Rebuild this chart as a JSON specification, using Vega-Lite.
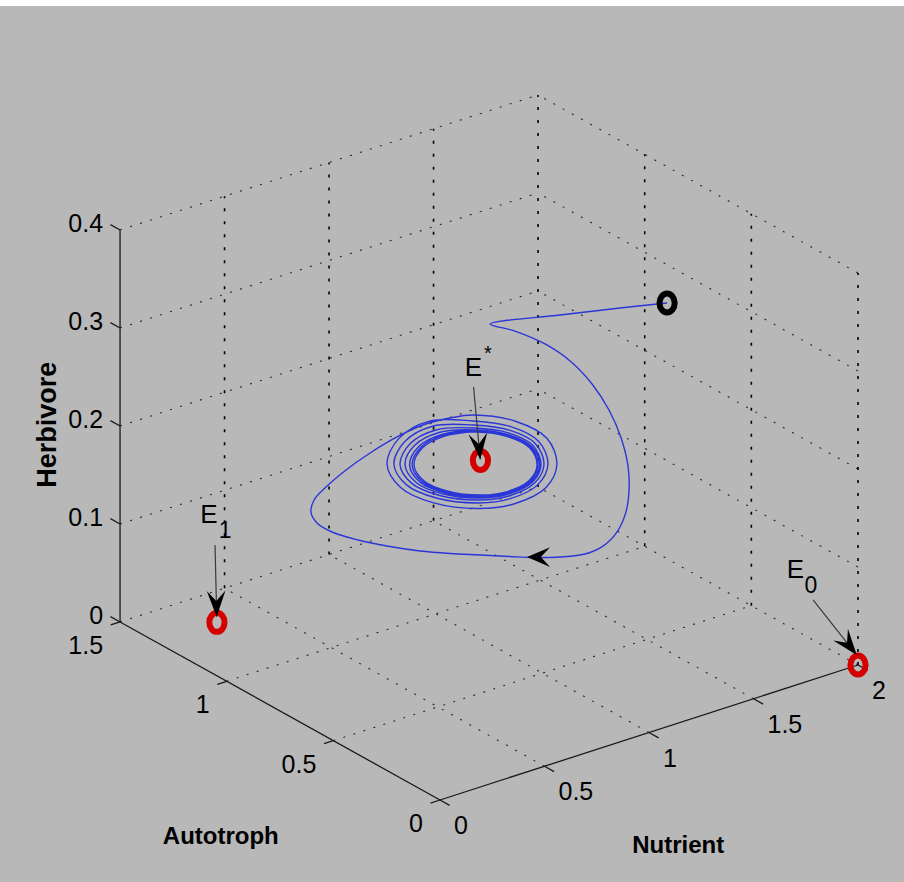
{
  "$schema": "https://vega.github.io/schema/vega-lite/v6.json",
  "width": 904,
  "height": 876,
  "autosize": {"type": "none"},
  "padding": {"top": 6, "left": 0, "right": 0, "bottom": 0},
  "background": "#ffffff",
  "config": {"view": {"stroke": null, "fill": "#b8b8b8"}, "font": "Liberation Sans"},
  "datasets": {
    "segments": [
      {"part": "grid", "N1": 0.5, "A1": 0, "H1": 0, "N2": 0.5, "A2": 1.5, "H2": 0},
      {"part": "grid", "N1": 1, "A1": 0, "H1": 0, "N2": 1, "A2": 1.5, "H2": 0},
      {"part": "grid", "N1": 1.5, "A1": 0, "H1": 0, "N2": 1.5, "A2": 1.5, "H2": 0},
      {"part": "grid", "N1": 2, "A1": 0, "H1": 0, "N2": 2, "A2": 1.5, "H2": 0},
      {"part": "grid", "N1": 0, "A1": 0.5, "H1": 0, "N2": 2, "A2": 0.5, "H2": 0},
      {"part": "grid", "N1": 0, "A1": 1, "H1": 0, "N2": 2, "A2": 1, "H2": 0},
      {"part": "grid", "N1": 0, "A1": 1.5, "H1": 0, "N2": 2, "A2": 1.5, "H2": 0},
      {"part": "grid", "N1": 0.5, "A1": 1.5, "H1": 0, "N2": 0.5, "A2": 1.5, "H2": 0.4},
      {"part": "grid", "N1": 1, "A1": 1.5, "H1": 0, "N2": 1, "A2": 1.5, "H2": 0.4},
      {"part": "grid", "N1": 1.5, "A1": 1.5, "H1": 0, "N2": 1.5, "A2": 1.5, "H2": 0.4},
      {"part": "grid", "N1": 2, "A1": 1.5, "H1": 0, "N2": 2, "A2": 1.5, "H2": 0.4},
      {"part": "grid", "N1": 0, "A1": 1.5, "H1": 0.1, "N2": 2, "A2": 1.5, "H2": 0.1},
      {"part": "grid", "N1": 0, "A1": 1.5, "H1": 0.2, "N2": 2, "A2": 1.5, "H2": 0.2},
      {"part": "grid", "N1": 0, "A1": 1.5, "H1": 0.3, "N2": 2, "A2": 1.5, "H2": 0.3},
      {"part": "grid", "N1": 0, "A1": 1.5, "H1": 0.4, "N2": 2, "A2": 1.5, "H2": 0.4},
      {"part": "grid", "N1": 2, "A1": 0, "H1": 0, "N2": 2, "A2": 0, "H2": 0.4},
      {"part": "grid", "N1": 2, "A1": 0.5, "H1": 0, "N2": 2, "A2": 0.5, "H2": 0.4},
      {"part": "grid", "N1": 2, "A1": 1, "H1": 0, "N2": 2, "A2": 1, "H2": 0.4},
      {"part": "grid", "N1": 2, "A1": 0, "H1": 0.1, "N2": 2, "A2": 1.5, "H2": 0.1},
      {"part": "grid", "N1": 2, "A1": 0, "H1": 0.2, "N2": 2, "A2": 1.5, "H2": 0.2},
      {"part": "grid", "N1": 2, "A1": 0, "H1": 0.3, "N2": 2, "A2": 1.5, "H2": 0.3},
      {"part": "grid", "N1": 2, "A1": 0, "H1": 0.4, "N2": 2, "A2": 1.5, "H2": 0.4},
      {"part": "axis", "N1": 0, "A1": 0, "H1": 0, "N2": 2, "A2": 0, "H2": 0},
      {"part": "axis", "N1": 0, "A1": 0, "H1": 0, "N2": 0, "A2": 1.5, "H2": 0},
      {"part": "axis", "N1": 0, "A1": 1.5, "H1": 0, "N2": 0, "A2": 1.5, "H2": 0.4},
      {"part": "tick", "N1": 0, "A1": 0, "H1": 0, "N2": 0, "A2": -0.045, "H2": 0},
      {"part": "tick", "N1": 0.5, "A1": 0, "H1": 0, "N2": 0.5, "A2": -0.045, "H2": 0},
      {"part": "tick", "N1": 1, "A1": 0, "H1": 0, "N2": 1, "A2": -0.045, "H2": 0},
      {"part": "tick", "N1": 1.5, "A1": 0, "H1": 0, "N2": 1.5, "A2": -0.045, "H2": 0},
      {"part": "tick", "N1": 2, "A1": 0, "H1": 0, "N2": 2, "A2": -0.045, "H2": 0},
      {"part": "tick", "N1": 0, "A1": 0, "H1": 0, "N2": -0.045, "A2": 0, "H2": 0},
      {"part": "tick", "N1": 0, "A1": 0.5, "H1": 0, "N2": -0.045, "A2": 0.5, "H2": 0},
      {"part": "tick", "N1": 0, "A1": 1, "H1": 0, "N2": -0.045, "A2": 1, "H2": 0},
      {"part": "tick", "N1": 0, "A1": 1.5, "H1": 0, "N2": -0.045, "A2": 1.5, "H2": 0},
      {"part": "tick", "N1": 0, "A1": 1.5, "H1": 0, "N2": 0, "A2": 1.545, "H2": 0},
      {"part": "tick", "N1": 0, "A1": 1.5, "H1": 0.1, "N2": 0, "A2": 1.545, "H2": 0.1},
      {"part": "tick", "N1": 0, "A1": 1.5, "H1": 0.2, "N2": 0, "A2": 1.545, "H2": 0.2},
      {"part": "tick", "N1": 0, "A1": 1.5, "H1": 0.3, "N2": 0, "A2": 1.545, "H2": 0.3},
      {"part": "tick", "N1": 0, "A1": 1.5, "H1": 0.4, "N2": 0, "A2": 1.545, "H2": 0.4}
    ],
    "tickLabels": [
      {"axis": "N", "label": "0", "N": 0, "A": 0, "H": 0},
      {"axis": "N", "label": "0.5", "N": 0.5, "A": 0, "H": 0},
      {"axis": "N", "label": "1", "N": 1, "A": 0, "H": 0},
      {"axis": "N", "label": "1.5", "N": 1.5, "A": 0, "H": 0},
      {"axis": "N", "label": "2", "N": 2, "A": 0, "H": 0},
      {"axis": "A", "label": "0", "N": 0, "A": 0, "H": 0},
      {"axis": "A", "label": "0.5", "N": 0, "A": 0.5, "H": 0},
      {"axis": "A", "label": "1", "N": 0, "A": 1, "H": 0},
      {"axis": "A", "label": "1.5", "N": 0, "A": 1.5, "H": 0},
      {"axis": "H", "label": "0", "N": 0, "A": 1.5, "H": 0},
      {"axis": "H", "label": "0.1", "N": 0, "A": 1.5, "H": 0.1},
      {"axis": "H", "label": "0.2", "N": 0, "A": 1.5, "H": 0.2},
      {"axis": "H", "label": "0.3", "N": 0, "A": 1.5, "H": 0.3},
      {"axis": "H", "label": "0.4", "N": 0, "A": 1.5, "H": 0.4}
    ],
    "axisTitles": [
      {"title": "Nutrient", "N": 0.472, "A": -0.654, "H": 0},
      {"title": "Autotroph", "N": -0.863, "A": 0.182, "H": 0},
      {"title": "Herbivore", "N": -0.345, "A": 1.5, "H": 0.225}
    ],
    "trajectory": [
      {"t": 0, "N": 1.903, "A": 0.8, "H": 0.2792},
      {"t": 1, "N": 1.678, "A": 0.8, "H": 0.2896},
      {"t": 2, "N": 1.391, "A": 0.8, "H": 0.3022},
      {"t": 3, "N": 1.056, "A": 0.8, "H": 0.3161},
      {"t": 4, "N": 1.175, "A": 0.8, "H": 0.3007},
      {"t": 5, "N": 1.319, "A": 0.8, "H": 0.2776},
      {"t": 6, "N": 1.439, "A": 0.8, "H": 0.2520},
      {"t": 7, "N": 1.544, "A": 0.8, "H": 0.2213},
      {"t": 8, "N": 1.625, "A": 0.8, "H": 0.1891},
      {"t": 9, "N": 1.683, "A": 0.8, "H": 0.1566},
      {"t": 10, "N": 1.716, "A": 0.8, "H": 0.1257},
      {"t": 11, "N": 1.721, "A": 0.8, "H": 0.1009},
      {"t": 12, "N": 1.706, "A": 0.8, "H": 0.0794},
      {"t": 13, "N": 1.663, "A": 0.8, "H": 0.0620},
      {"t": 14, "N": 1.596, "A": 0.8, "H": 0.0523},
      {"t": 15, "N": 1.510, "A": 0.8, "H": 0.0501},
      {"t": 16, "N": 1.391, "A": 0.8, "H": 0.0553},
      {"t": 17, "N": 1.271, "A": 0.8, "H": 0.0630},
      {"t": 18, "N": 1.151, "A": 0.8, "H": 0.0723},
      {"t": 19, "N": 1.008, "A": 0.8, "H": 0.0837},
      {"t": 20, "N": 0.864, "A": 0.8, "H": 0.0951},
      {"t": 21, "N": 0.721, "A": 0.8, "H": 0.1075},
      {"t": 22, "N": 0.577, "A": 0.8, "H": 0.1220},
      {"t": 23, "N": 0.424, "A": 0.8, "H": 0.1392},
      {"t": 24, "N": 0.300, "A": 0.8, "H": 0.1559},
      {"t": 25, "N": 0.228, "A": 0.8, "H": 0.1701},
      {"t": 26, "N": 0.199, "A": 0.8, "H": 0.1833},
      {"t": 27, "N": 0.214, "A": 0.8, "H": 0.1945},
      {"t": 28, "N": 0.271, "A": 0.8, "H": 0.2038},
      {"t": 29, "N": 0.367, "A": 0.8, "H": 0.2146},
      {"t": 30, "N": 0.482, "A": 0.8, "H": 0.2240},
      {"t": 31, "N": 0.611, "A": 0.8, "H": 0.2315},
      {"t": 32, "N": 0.735, "A": 0.8, "H": 0.2351},
      {"t": 33, "N": 0.864, "A": 0.8, "H": 0.2334},
      {"t": 34, "N": 0.978, "A": 0.8, "H": 0.2286},
      {"t": 35, "N": 1.181, "A": 0.8, "H": 0.2080},
      {"t": 36, "N": 1.328, "A": 0.8, "H": 0.1807},
      {"t": 37, "N": 1.376, "A": 0.8, "H": 0.1511},
      {"t": 38, "N": 1.324, "A": 0.8, "H": 0.1308},
      {"t": 39, "N": 1.173, "A": 0.8, "H": 0.1246},
      {"t": 40, "N": 1.010, "A": 0.8, "H": 0.1310},
      {"t": 41, "N": 0.786, "A": 0.8, "H": 0.1521},
      {"t": 42, "N": 0.628, "A": 0.8, "H": 0.1787},
      {"t": 43, "N": 0.563, "A": 0.8, "H": 0.2071},
      {"t": 44, "N": 0.620, "A": 0.8, "H": 0.2294},
      {"t": 45, "N": 0.766, "A": 0.8, "H": 0.2370},
      {"t": 46, "N": 0.972, "A": 0.8, "H": 0.2229},
      {"t": 47, "N": 1.156, "A": 0.8, "H": 0.2044},
      {"t": 48, "N": 1.289, "A": 0.8, "H": 0.1801},
      {"t": 49, "N": 1.333, "A": 0.8, "H": 0.1541},
      {"t": 50, "N": 1.285, "A": 0.8, "H": 0.1364},
      {"t": 51, "N": 1.149, "A": 0.8, "H": 0.1312},
      {"t": 52, "N": 1.002, "A": 0.8, "H": 0.1372},
      {"t": 53, "N": 0.799, "A": 0.8, "H": 0.1562},
      {"t": 54, "N": 0.655, "A": 0.8, "H": 0.1798},
      {"t": 55, "N": 0.596, "A": 0.8, "H": 0.2049},
      {"t": 56, "N": 0.648, "A": 0.8, "H": 0.2243},
      {"t": 57, "N": 0.781, "A": 0.8, "H": 0.2307},
      {"t": 58, "N": 0.976, "A": 0.8, "H": 0.2185},
      {"t": 59, "N": 1.149, "A": 0.8, "H": 0.2013},
      {"t": 60, "N": 1.273, "A": 0.8, "H": 0.1790},
      {"t": 61, "N": 1.314, "A": 0.8, "H": 0.1550},
      {"t": 62, "N": 1.269, "A": 0.8, "H": 0.1391},
      {"t": 63, "N": 1.142, "A": 0.8, "H": 0.1344},
      {"t": 64, "N": 1.004, "A": 0.8, "H": 0.1401},
      {"t": 65, "N": 0.815, "A": 0.8, "H": 0.1577},
      {"t": 66, "N": 0.680, "A": 0.8, "H": 0.1796},
      {"t": 67, "N": 0.625, "A": 0.8, "H": 0.2025},
      {"t": 68, "N": 0.673, "A": 0.8, "H": 0.2202},
      {"t": 69, "N": 0.797, "A": 0.8, "H": 0.2258},
      {"t": 70, "N": 0.981, "A": 0.8, "H": 0.2151},
      {"t": 71, "N": 1.144, "A": 0.8, "H": 0.1989},
      {"t": 72, "N": 1.261, "A": 0.8, "H": 0.1780},
      {"t": 73, "N": 1.300, "A": 0.8, "H": 0.1557},
      {"t": 74, "N": 1.258, "A": 0.8, "H": 0.1407},
      {"t": 75, "N": 1.137, "A": 0.8, "H": 0.1365},
      {"t": 76, "N": 1.007, "A": 0.8, "H": 0.1419},
      {"t": 77, "N": 0.828, "A": 0.8, "H": 0.1585},
      {"t": 78, "N": 0.701, "A": 0.8, "H": 0.1791},
      {"t": 79, "N": 0.649, "A": 0.8, "H": 0.2005},
      {"t": 80, "N": 0.694, "A": 0.8, "H": 0.2170},
      {"t": 81, "N": 0.812, "A": 0.8, "H": 0.2222},
      {"t": 82, "N": 0.988, "A": 0.8, "H": 0.2126},
      {"t": 83, "N": 1.143, "A": 0.8, "H": 0.1971},
      {"t": 84, "N": 1.255, "A": 0.8, "H": 0.1771},
      {"t": 85, "N": 1.293, "A": 0.8, "H": 0.1557},
      {"t": 86, "N": 1.252, "A": 0.8, "H": 0.1414},
      {"t": 87, "N": 1.137, "A": 0.8, "H": 0.1374},
      {"t": 88, "N": 1.013, "A": 0.8, "H": 0.1425},
      {"t": 89, "N": 0.842, "A": 0.8, "H": 0.1584},
      {"t": 90, "N": 0.720, "A": 0.8, "H": 0.1781},
      {"t": 91, "N": 0.671, "A": 0.8, "H": 0.1986},
      {"t": 92, "N": 0.714, "A": 0.8, "H": 0.2144},
      {"t": 93, "N": 0.826, "A": 0.8, "H": 0.2193},
      {"t": 94, "N": 0.990, "A": 0.8, "H": 0.2114},
      {"t": 95, "N": 1.141, "A": 0.8, "H": 0.1965},
      {"t": 96, "N": 1.249, "A": 0.8, "H": 0.1770},
      {"t": 97, "N": 1.285, "A": 0.8, "H": 0.1563},
      {"t": 98, "N": 1.246, "A": 0.8, "H": 0.1424},
      {"t": 99, "N": 1.135, "A": 0.8, "H": 0.1385},
      {"t": 100, "N": 1.014, "A": 0.8, "H": 0.1435},
      {"t": 101, "N": 0.848, "A": 0.8, "H": 0.1589},
      {"t": 102, "N": 0.731, "A": 0.8, "H": 0.1779},
      {"t": 103, "N": 0.683, "A": 0.8, "H": 0.1978},
      {"t": 104, "N": 0.725, "A": 0.8, "H": 0.2131},
      {"t": 105, "N": 0.833, "A": 0.8, "H": 0.2180},
      {"t": 106, "N": 0.992, "A": 0.8, "H": 0.2103},
      {"t": 107, "N": 1.139, "A": 0.8, "H": 0.1956},
      {"t": 108, "N": 1.245, "A": 0.8, "H": 0.1768},
      {"t": 109, "N": 1.281, "A": 0.8, "H": 0.1566},
      {"t": 110, "N": 1.242, "A": 0.8, "H": 0.1433},
      {"t": 111, "N": 1.133, "A": 0.8, "H": 0.1395},
      {"t": 112, "N": 1.016, "A": 0.8, "H": 0.1443},
      {"t": 113, "N": 0.854, "A": 0.8, "H": 0.1594},
      {"t": 114, "N": 0.739, "A": 0.8, "H": 0.1779},
      {"t": 115, "N": 0.692, "A": 0.8, "H": 0.1972},
      {"t": 116, "N": 0.733, "A": 0.8, "H": 0.2120},
      {"t": 117, "N": 0.839, "A": 0.8, "H": 0.2166},
      {"t": 118, "N": 0.991, "A": 0.8, "H": 0.2108}
    ],
    "states": [
      {"name": "E0", "kind": "equilibrium", "N": 2, "A": 0, "H": 0},
      {"name": "E1", "kind": "equilibrium", "N": 0.291, "A": 1.331, "H": 0},
      {"name": "E*", "kind": "equilibrium", "N": 1.01, "A": 0.8, "H": 0.18},
      {"name": "initial", "kind": "initial", "N": 1.903, "A": 0.8, "H": 0.2792}
    ],
    "pointers": [
      {"name": "E*", "N1": 0.977, "A1": 0.8, "H1": 0.2572, "N2": 1.009, "A2": 0.8, "H2": 0.181},
      {"name": "E1", "N1": 0.282, "A1": 1.331, "H1": 0.0796, "N2": 0.290, "A2": 1.331, "H2": 0.0059},
      {"name": "E0", "N1": 1.785, "A1": 0, "H1": 0.0812, "N2": 1.994, "A2": 0, "H2": 0.0106}
    ],
    "flow": [
      {"N1": 1.352, "A1": 0.8, "H1": 0.0579, "N2": 1.233, "A2": 0.8, "H2": 0.0662}
    ],
    "names": [
      {"text": "E", "role": "name", "N": 0.976, "A": 0.8, "H": 0.2764},
      {"text": "*", "role": "star", "N": 1.046, "A": 0.8, "H": 0.2862},
      {"text": "E", "role": "name", "N": 0.253, "A": 1.331, "H": 0.1122},
      {"text": "1", "role": "index", "N": 0.330, "A": 1.331, "H": 0.0906},
      {"text": "E", "role": "name", "N": 1.701, "A": 0, "H": 0.1175},
      {"text": "0", "role": "index", "N": 1.775, "A": 0, "H": 0.0956}
    ]
  },
  "encoding": {
    "x": {"field": "x", "type": "quantitative", "scale": {"domain": [-440, 464], "nice": false, "zero": false}, "axis": null},
    "y": {"field": "y", "type": "quantitative", "scale": {"domain": [-82, 794], "nice": false, "zero": false}, "axis": null}
  },
  "layer": [
    {
      "data": {"name": "segments"},
      "transform": [
        {"filter": "datum.part == 'grid' && !(datum.N1 == datum.N2 && datum.A1 == datum.A2)"},
        {"calculate": "209*datum.N1 - 213.3*datum.A1", "as": "x"},
        {"calculate": "67.5*datum.N1 + 118.7*datum.A1 + 980*datum.H1", "as": "y"},
        {"calculate": "209*datum.N2 - 213.3*datum.A2", "as": "x2"},
        {"calculate": "67.5*datum.N2 + 118.7*datum.A2 + 980*datum.H2", "as": "y2"}
      ],
      "mark": {"type": "rule", "color": "#2a2a2a", "strokeWidth": 1.1, "strokeDash": [2, 8.5]},
      "encoding": {"x2": {"field": "x2"}, "y2": {"field": "y2"}}
    },
    {
      "data": {"name": "segments"},
      "transform": [
        {"filter": "datum.part == 'grid' && datum.N1 == datum.N2 && datum.A1 == datum.A2"},
        {"calculate": "209*datum.N1 - 213.3*datum.A1", "as": "x"},
        {"calculate": "67.5*datum.N1 + 118.7*datum.A1 + 980*datum.H1", "as": "y"},
        {"calculate": "209*datum.N2 - 213.3*datum.A2", "as": "x2"},
        {"calculate": "67.5*datum.N2 + 118.7*datum.A2 + 980*datum.H2", "as": "y2"}
      ],
      "mark": {"type": "rule", "color": "#000000", "strokeWidth": 1.6, "strokeDash": [3, 10]},
      "encoding": {"x2": {"field": "x2"}, "y2": {"field": "y2"}}
    },
    {
      "data": {"name": "segments"},
      "transform": [
        {"filter": "datum.part != 'grid'"},
        {"calculate": "209*datum.N1 - 213.3*datum.A1", "as": "x"},
        {"calculate": "67.5*datum.N1 + 118.7*datum.A1 + 980*datum.H1", "as": "y"},
        {"calculate": "209*datum.N2 - 213.3*datum.A2", "as": "x2"},
        {"calculate": "67.5*datum.N2 + 118.7*datum.A2 + 980*datum.H2", "as": "y2"}
      ],
      "mark": {"type": "rule", "color": "#1a1a1a", "strokeWidth": 1.3},
      "encoding": {"x2": {"field": "x2"}, "y2": {"field": "y2"}}
    },
    {
      "data": {"name": "tickLabels"},
      "transform": [
        {"filter": "datum.axis == 'N'"},
        {"calculate": "209*datum.N - 213.3*datum.A", "as": "x"},
        {"calculate": "67.5*datum.N + 118.7*datum.A + 980*datum.H", "as": "y"}
      ],
      "mark": {"type": "text", "align": "left", "baseline": "middle", "dx": 14, "dy": 26, "font": "Liberation Sans", "fontSize": 25, "color": "#000000"},
      "encoding": {"text": {"field": "label"}}
    },
    {
      "data": {"name": "tickLabels"},
      "transform": [
        {"filter": "datum.axis == 'A'"},
        {"calculate": "209*datum.N - 213.3*datum.A", "as": "x"},
        {"calculate": "67.5*datum.N + 118.7*datum.A + 980*datum.H", "as": "y"}
      ],
      "mark": {"type": "text", "align": "right", "baseline": "middle", "dx": -17, "dy": 24, "font": "Liberation Sans", "fontSize": 25, "color": "#000000"},
      "encoding": {"text": {"field": "label"}}
    },
    {
      "data": {"name": "tickLabels"},
      "transform": [
        {"filter": "datum.axis == 'H'"},
        {"calculate": "209*datum.N - 213.3*datum.A", "as": "x"},
        {"calculate": "67.5*datum.N + 118.7*datum.A + 980*datum.H", "as": "y"}
      ],
      "mark": {"type": "text", "align": "right", "baseline": "middle", "dx": -17, "dy": -6, "font": "Liberation Sans", "fontSize": 25, "color": "#000000"},
      "encoding": {"text": {"field": "label"}}
    },
    {
      "data": {"name": "axisTitles"},
      "transform": [
        {"filter": "datum.title != 'Herbivore'"},
        {"calculate": "209*datum.N - 213.3*datum.A", "as": "x"},
        {"calculate": "67.5*datum.N + 118.7*datum.A + 980*datum.H", "as": "y"}
      ],
      "mark": {"type": "text", "align": "center", "baseline": "middle", "font": "Liberation Sans", "fontWeight": "bold", "fontSize": 24, "color": "#000000"},
      "encoding": {"text": {"field": "title"}}
    },
    {
      "data": {"name": "axisTitles"},
      "transform": [
        {"filter": "datum.title == 'Herbivore'"},
        {"calculate": "209*datum.N - 213.3*datum.A", "as": "x"},
        {"calculate": "67.5*datum.N + 118.7*datum.A + 980*datum.H", "as": "y"}
      ],
      "mark": {"type": "text", "align": "center", "baseline": "middle", "angle": 270, "font": "Liberation Sans", "fontWeight": "bold", "fontSize": 27, "color": "#000000"},
      "encoding": {"text": {"field": "title"}}
    },
    {
      "data": {"name": "trajectory"},
      "transform": [
        {"calculate": "209*datum.N - 213.3*datum.A", "as": "x"},
        {"calculate": "67.5*datum.N + 118.7*datum.A + 980*datum.H", "as": "y"}
      ],
      "mark": {"type": "line", "interpolate": "catmull-rom", "color": "#2a36d6", "strokeWidth": 1.4},
      "encoding": {"order": {"field": "t", "type": "quantitative"}}
    },
    {
      "data": {"name": "pointers"},
      "transform": [
        {"calculate": "209*datum.N1 - 213.3*datum.A1", "as": "x"},
        {"calculate": "67.5*datum.N1 + 118.7*datum.A1 + 980*datum.H1", "as": "y"},
        {"calculate": "209*datum.N2 - 213.3*datum.A2", "as": "x2"},
        {"calculate": "67.5*datum.N2 + 118.7*datum.A2 + 980*datum.H2", "as": "y2"}
      ],
      "mark": {"type": "rule", "color": "#3a3a3a", "strokeWidth": 1.2},
      "encoding": {"x2": {"field": "x2"}, "y2": {"field": "y2"}}
    },
    {
      "data": {"name": "states"},
      "transform": [
        {"calculate": "209*datum.N - 213.3*datum.A", "as": "x"},
        {"calculate": "67.5*datum.N + 118.7*datum.A + 980*datum.H", "as": "y"}
      ],
      "mark": {
        "type": "point",
        "shape": "M0,-1 C0.4418,-1 0.8,-0.5523 0.8,0 C0.8,0.5523 0.4418,1 0,1 C-0.4418,1 -0.8,0.5523 -0.8,0 C-0.8,-0.5523 -0.4418,-1 0,-1 Z",
        "filled": false,
        "size": 361,
        "strokeWidth": 6,
        "opacity": 1
      },
      "encoding": {
        "color": {"field": "kind", "type": "nominal", "scale": {"domain": ["equilibrium", "initial"], "range": ["#d40000", "#000000"]}, "legend": null}
      }
    },
    {
      "data": {"name": "pointers"},
      "transform": [
        {"calculate": "209*datum.N2 - 213.3*datum.A2", "as": "x"},
        {"calculate": "67.5*datum.N2 + 118.7*datum.A2 + 980*datum.H2", "as": "y"},
        {"calculate": "atan2(datum.x - (209*datum.N1 - 213.3*datum.A1), datum.y - (67.5*datum.N1 + 118.7*datum.A1 + 980*datum.H1)) * 180 / PI", "as": "ang"}
      ],
      "mark": {"type": "point", "shape": "M0,0 L-0.36,1 L0,0.6 L0.36,1 Z", "filled": true, "size": 2704, "color": "#000000", "opacity": 1, "strokeWidth": 0},
      "encoding": {"angle": {"field": "ang", "type": "quantitative", "scale": null}}
    },
    {
      "data": {"name": "flow"},
      "transform": [
        {"calculate": "209*datum.N2 - 213.3*datum.A2", "as": "x"},
        {"calculate": "67.5*datum.N2 + 118.7*datum.A2 + 980*datum.H2", "as": "y"},
        {"calculate": "atan2(datum.x - (209*datum.N1 - 213.3*datum.A1), datum.y - (67.5*datum.N1 + 118.7*datum.A1 + 980*datum.H1)) * 180 / PI", "as": "ang"}
      ],
      "mark": {"type": "point", "shape": "M0,0 L-0.43,1 L0,0.6 L0.43,1 Z", "filled": true, "size": 2116, "color": "#000000", "opacity": 1, "strokeWidth": 0},
      "encoding": {"angle": {"field": "ang", "type": "quantitative", "scale": null}}
    },
    {
      "data": {"name": "names"},
      "transform": [
        {"calculate": "209*datum.N - 213.3*datum.A", "as": "x"},
        {"calculate": "67.5*datum.N + 118.7*datum.A + 980*datum.H", "as": "y"}
      ],
      "mark": {"type": "text", "align": "center", "baseline": "middle", "font": "Liberation Sans", "color": "#000000"},
      "encoding": {
        "text": {"field": "text"},
        "size": {"field": "role", "type": "ordinal", "scale": {"domain": ["name", "index", "star"], "range": [26, 20, 18]}, "legend": null}
      }
    }
  ]
}
